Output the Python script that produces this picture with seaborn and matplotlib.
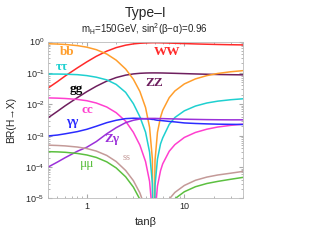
import matplotlib
matplotlib.use("Agg")
import matplotlib.pyplot as plt
import matplotlib.ticker as mticker
import seaborn as sns
import numpy as np

# tan(beta) points
tanb = [0.4, 0.5, 0.6, 0.8, 1.0, 1.25, 1.6, 2.0, 2.5, 3.0, 3.5, 4.0, 4.4, 4.7,
        4.85, 5.0, 5.3, 5.7, 6.0, 7.0, 8.0, 10.0, 13.0, 17.0, 22.0, 30.0, 40.0]

br_ww = [0.033, 0.053, 0.080, 0.145, 0.225, 0.338, 0.493, 0.640, 0.765, 0.84, 0.88,
         0.90, 0.91, 0.915, 0.915, 0.915, 0.914, 0.91, 0.905, 0.893, 0.88, 0.86,
         0.838, 0.82, 0.805, 0.79, 0.78]
br_zz = [0.0037, 0.006, 0.009, 0.0163, 0.0253, 0.0376, 0.0548, 0.0711, 0.085, 0.0929,
         0.0971, 0.0991, 0.0998, 0.1, 0.1, 0.1, 0.0999, 0.0996, 0.0993, 0.0981, 0.097,
         0.095, 0.0927, 0.0907, 0.0891, 0.0877, 0.0867]
br_bb = [0.85, 0.83, 0.805, 0.74, 0.66, 0.55, 0.40, 0.255, 0.133, 0.0627, 0.0256, 0.0079,
         0.00185, 1.8e-4, 1e-9, 1.6e-4, 0.00128, 0.0039, 0.00645, 0.0163, 0.0266, 0.0446,
         0.0645, 0.082, 0.096, 0.109, 0.118]
br_tautau = [0.092, 0.092, 0.091, 0.088, 0.082, 0.073, 0.060, 0.043, 0.024, 0.0105,
             0.0040, 0.0013, 3.0e-4, 3.0e-5, 1e-9, 2.5e-5, 1.8e-4, 5.5e-4, 8.5e-4,
             0.0023, 0.0038, 0.0062, 0.0088, 0.011, 0.0126, 0.014, 0.015]
br_cc = [0.0160, 0.0157, 0.0153, 0.0143, 0.0130, 0.0110, 0.0082, 0.0054, 0.0029,
         0.00128, 5.0e-4, 1.5e-4, 3.5e-5, 3.4e-6, 1e-9, 3.1e-6, 2.5e-5, 7.7e-5, 1.27e-4,
         3.2e-4, 5.2e-4, 8.8e-4, 0.00127, 0.00161, 0.00189, 0.00214, 0.00233]
br_gamgam = [9.8e-4, 0.00105, 0.00115, 0.00135, 0.0016, 0.002, 0.0026, 0.0031, 0.0035,
             0.0036, 0.00355, 0.00345, 0.0034, 0.0033, 0.0033, 0.0032, 0.0031, 0.00305,
             0.003, 0.00285, 0.00275, 0.00255, 0.00245, 0.00238, 0.00233, 0.0023, 0.00228]
br_zgam = [1.0e-4, 1.45e-4, 2.0e-4, 3.2e-4, 4.3e-4, 6.5e-4, 0.00115, 0.0018, 0.0026,
           0.0031, 0.0034, 0.0035, 0.00355, 0.00355, 0.00355, 0.00355, 0.00353, 0.0035,
           0.0035, 0.00345, 0.00342, 0.00335, 0.0033, 0.00325, 0.00322, 0.0032, 0.0032]
br_ss = [5.0e-4, 4.88e-4, 4.73e-4, 4.35e-4, 3.89e-4, 3.24e-4, 2.35e-4, 1.5e-4, 7.8e-5,
         3.7e-5, 1.5e-5, 4.7e-6, 1.1e-6, 1e-7, 1e-10, 1e-7, 7.5e-7, 2.3e-6, 3.8e-6,
         9.6e-6, 1.56e-5, 2.6e-5, 3.8e-5, 4.8e-5, 5.6e-5, 6.4e-5, 7.3e-5]
br_mumu = [3.1e-4, 3.05e-4, 2.96e-4, 2.72e-4, 2.43e-4, 2.03e-4, 1.47e-4, 9.4e-5, 4.9e-5,
           2.3e-5, 9.4e-6, 2.9e-6, 6.8e-7, 6.6e-8, 1e-10, 5.8e-8, 4.7e-7, 1.4e-6, 2.4e-6,
           6.0e-6, 9.8e-6, 1.64e-5, 2.37e-5, 3.0e-5, 3.5e-5, 4.1e-5, 4.7e-5]

series = [
    ("WW", br_ww, "#ff2a2a"),
    ("ZZ", br_zz, "#6e1f5e"),
    ("bb", br_bb, "#ff9e2c"),
    ("tautau", br_tautau, "#1fd0d0"),
    ("cc", br_cc, "#ff3fcf"),
    ("gamgam", br_gamgam, "#2b2bff"),
    ("Zgam", br_zgam, "#9b30d9"),
    ("ss", br_ss, "#c49a98"),
    ("mumu", br_mumu, "#5cc040"),
]

# curve labels: (text, tanb, BR, colour, size, weight)
labels = [
    ("bb", 0.63, 0.46, "#ff9e2c", 9.5, "bold"),
    ("ττ", 0.56, 0.158, "#1fd0d0", 9.5, "bold"),
    ("gg", 0.77, 0.031, "black", 9.5, "bold"),
    ("cc", 1.01, 0.0066, "#ff3fcf", 9.5, "bold"),
    ("γγ", 0.71, 0.0028, "#2b2bff", 9.5, "bold"),
    ("Zγ", 1.79, 7.7e-4, "#9b30d9", 9.5, "bold"),
    ("ss", 2.54, 2.0e-4, "#c49a98", 7.5, "normal"),
    ("μμ", 1.0, 1.26e-4, "#5cc040", 9.5, "normal"),
    ("WW", 6.6, 0.45, "#ff2a2a", 9.5, "bold"),
    ("ZZ", 4.94, 0.049, "#6e1f5e", 9.5, "bold"),
]

sns.set_style("ticks")
plt.rcParams["font.family"] = ["Liberation Sans", "DejaVu Sans"]

fig = plt.figure(figsize=(3.1, 2.4), dpi=100)
ax = fig.add_axes([0.155, 0.173, 0.629, 0.654])

for name, vals, col in series:
    sns.lineplot(x=tanb, y=vals, color=col, linewidth=1.1, ax=ax)

ax.set_xscale("log")
ax.set_yscale("log")
ax.set_xlim(0.4, 40)
ax.set_ylim(1e-5, 1)

for text, x, y, col, fs, wt in labels:
    ax.text(x, y, text, color=col, fontsize=fs, fontweight=wt,
            family=["Liberation Serif", "DejaVu Serif"], ha="center", va="center")

ax.xaxis.set_major_formatter(mticker.FuncFormatter(lambda v, p: f"{v:g}"))
ax.yaxis.set_major_locator(mticker.LogLocator(base=10, numticks=10))
ax.yaxis.set_minor_locator(mticker.LogLocator(base=10, subs=np.arange(2, 10), numticks=10))
ax.tick_params(which="both", direction="in", top=True, right=True,
               color="#aaaaaa", labelsize=6.5, pad=2.5)
ax.tick_params(which="major", length=3)
ax.tick_params(which="minor", length=1.5)
for sp in ax.spines.values():
    sp.set_color("#bbbbbb")
    sp.set_linewidth(0.6)

ax.set_xlabel("tanβ", fontsize=8)
ax.xaxis.set_label_coords(0.5, -0.115)
ax.set_ylabel("BR(H→X)", fontsize=7.5)
ax.yaxis.set_label_coords(-0.165, 0.5)

fig.text(0.47, 0.946, "Type–I", ha="center", va="center", fontsize=10)
fig.text(0.465, 0.879, r"m$_\mathregular{H}$=150GeV, sin$^\mathregular{2}$(β−α)=0.96",
         ha="center", va="center", fontsize=7)

fig.savefig("out.png", dpi=100)
